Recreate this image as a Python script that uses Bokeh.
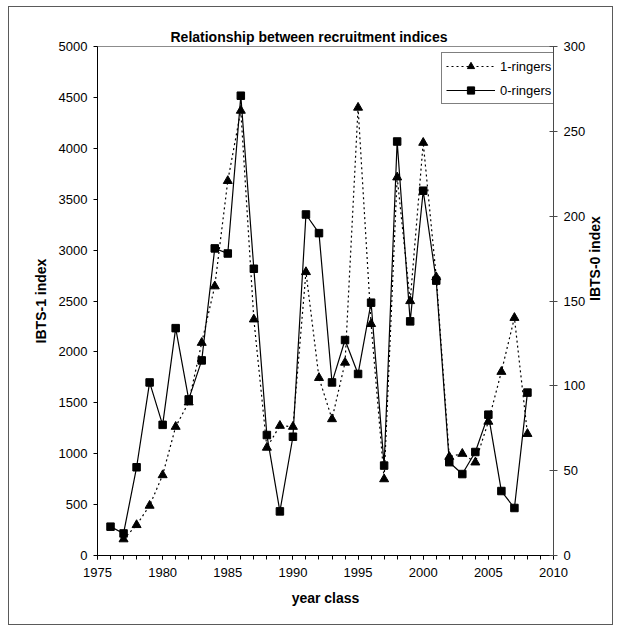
import math
from bokeh.plotting import figure
from bokeh.models import Range1d, LinearAxis, SingleIntervalTicker, Legend, LegendItem
from bokeh.embed import file_html
from bokeh.resources import INLINE

# ---- data ----
years_1 = list(range(1977, 2009))
ringers_1 = [160, 300, 490, 790, 1265, 1505, 2090, 2645, 3680, 4370, 2320, 1060,
             1275, 1265, 2785, 1745, 1340, 1895, 4400, 2275, 750, 3715, 2500, 4055,
             2735, 970, 1000, 915, 1315, 1805, 2335, 1195]
years_0 = list(range(1976, 2009))
ringers_0 = [17, 13, 52, 102, 77, 134, 92, 115, 181, 178, 271, 169, 71, 26, 70,
             201, 190, 102, 127, 107, 149, 53, 244, 138, 215, 162, 55, 48, 61, 83,
             38, 28, 96]

title_text = "Relationship between recruitment indices"
x_label = "year class"
y_left_label = "IBTS-1 index"
y_right_label = "IBTS-0 index"
series_names = ["1-ringers", "0-ringers"]

FONT = "Liberation Sans"

p = figure(width=605, height=619, x_range=Range1d(1975, 2010), y_range=Range1d(0, 5000),
           output_backend="svg", toolbar_location=None,
           min_border_left=88, min_border_right=58, min_border_top=39, min_border_bottom=71,
           x_axis_label=x_label, y_axis_label=y_left_label, title=title_text)
p.styles = {"border": "1px solid #5a5a5a", "margin-left": "8px", "margin-top": "6px"}
p.xgrid.visible = False
p.ygrid.visible = False
p.outline_line_color = "#8c8c8c"
p.background_fill_color = "white"

p.title.text_font = FONT
p.title.text_font_size = "14px"
p.title.text_font_style = "bold"
p.title.text_color = "black"
p.title.align = "left"
p.title.offset = 73
p.title.standoff = 4

p.xaxis.ticker = SingleIntervalTicker(interval=5, num_minor_ticks=5)
p.yaxis.ticker = SingleIntervalTicker(interval=500, num_minor_ticks=0)

p.extra_y_ranges = {"r": Range1d(0, 300)}
raxis = LinearAxis(y_range_name="r", ticker=SingleIntervalTicker(interval=50, num_minor_ticks=0),
                   axis_label=y_right_label)
p.add_layout(raxis, "right")
try:
    raxis.axis_label_orientation = math.pi / 2
except Exception:
    pass

for ax in p.axis:
    ax.major_label_text_font = FONT
    ax.major_label_text_font_size = "13px"
    ax.major_label_text_color = "black"
    ax.axis_label_text_font = FONT
    ax.axis_label_text_font_size = "14px"
    ax.axis_label_text_font_style = "bold"
    ax.axis_label_text_color = "black"
    ax.axis_line_color = "black"
    ax.major_tick_line_color = "black"
    ax.minor_tick_line_color = "black"
    ax.major_tick_in = 0
    ax.major_tick_out = 4
    ax.minor_tick_in = 0
    ax.minor_tick_out = 4
    ax.major_label_standoff = 6

p.xaxis.major_label_standoff = 8
p.xaxis.axis_label_standoff = 10
p.yaxis[0].axis_label_standoff = 7
raxis.major_label_standoff = 6
raxis.axis_label_standoff = 7
raxis.major_tick_in = 4
raxis.axis_line_color = "#4a4a4a"
raxis.major_tick_line_color = "#4a4a4a"

l1 = p.line(years_1, ringers_1, line_color="black", line_width=1.2, line_dash="2 3")
m1 = p.scatter(years_1, ringers_1, marker="triangle", size=9, fill_color="black", line_color="black")
l0 = p.line(years_0, ringers_0, line_color="black", line_width=1.2, y_range_name="r")
m0 = p.scatter(years_0, ringers_0, marker="square", size=7.5, fill_color="black", line_color="black",
               y_range_name="r")

legend = Legend(items=[LegendItem(label=series_names[0], renderers=[l1, m1]),
                       LegendItem(label=series_names[1], renderers=[l0, m0])],
                location=(344, 451))
legend.label_text_font = FONT
legend.label_text_font_size = "13px"
legend.label_text_color = "black"
legend.glyph_width = 49
legend.glyph_height = 18
legend.label_height = 18
legend.spacing = 6
legend.padding = 4
legend.margin = 0
legend.label_standoff = 5
legend.border_line_color = "black"
legend.border_line_width = 1
legend.background_fill_color = "white"
legend.background_fill_alpha = 1
p.add_layout(legend, "center")

open("out.html", "w").write(file_html(p, INLINE))
